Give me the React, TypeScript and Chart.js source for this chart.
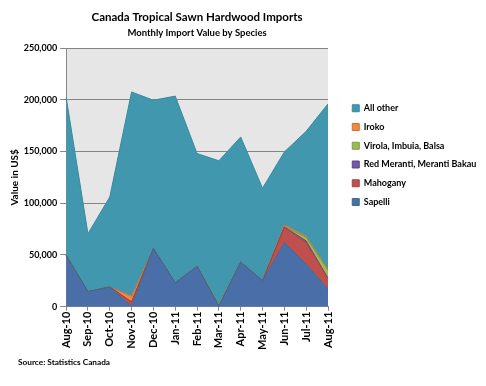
import React, { useEffect, useRef } from "react";
import { Chart, registerables } from "chart.js";

Chart.register(...registerables);

const months = ["Aug-10", "Sep-10", "Oct-10", "Nov-10", "Dec-10", "Jan-11", "Feb-11", "Mar-11", "Apr-11", "May-11", "Jun-11", "Jul-11", "Aug-11"];
const sapelli = [49500, 14500, 19000, 500, 56000, 23000, 39000, 500, 43000, 25000, 62000, 41000, 17000];
const mahogany = [0, 0, 0, 4000, 0, 0, 0, 0, 0, 0, 14500, 21000, 10000];
const redMeranti = [0, 0, 0, 0, 0, 0, 0, 0, 0, 0, 500, 1500, 500];
const virola = [0, 0, 0, 0, 0, 0, 0, 1000, 0, 0, 500, 3500, 7500];
const iroko = [0, 0, 0, 5500, 0, 0, 0, 0, 0, 0, 1500, 1000, 1000];
const allOther = [153000, 56000, 87000, 197500, 143500, 180500, 109000, 139500, 121000, 89500, 70500, 101500, 160000];
const yTicks = [0, 50000, 100000, 150000, 200000, 250000];

const FONT = "'Lato', sans-serif";

const series = [
  { label: "Sapelli", data: sapelli, color: "#4A6FA8", edge: "#3F6A8C" },
  { label: "Mahogany", data: mahogany, color: "#C0504D", edge: "#A8433F" },
  { label: "Red Meranti, Meranti Bakau", data: redMeranti, color: "#7557A3", edge: "#5E4585" },
  { label: "Virola, Imbuia, Balsa", data: virola, color: "#9BBB59", edge: "#7E9A44" },
  { label: "Iroko", data: iroko, color: "#F0883E", edge: "#D07030" },
  { label: "All other", data: allOther, color: "#4198AE", edge: "#3A8A9E" },
];

const bgPlugin = {
  id: "plotBg",
  beforeDraw(chart: any) {
    const { ctx, chartArea } = chart;
    ctx.save();
    ctx.fillStyle = "#E6E6E6";
    ctx.fillRect(chartArea.left, chartArea.top, chartArea.right - chartArea.left, chartArea.bottom - chartArea.top);
    ctx.restore();
  },
  afterDraw(chart: any) {
    const { ctx } = chart;
    ctx.save();
    ctx.font = "bold 8.25px " + FONT;
    ctx.fillStyle = "#000";
    ctx.textBaseline = "middle";
    ctx.textAlign = "left";
    ctx.fillText("Source: Statistics Canada", 18, 362);
    ctx.restore();
  },
};

export default function App() {
  const ref = useRef<HTMLCanvasElement>(null);
  useEffect(() => {
    if (!ref.current) return;
    const chart = new Chart(ref.current, {
      type: "line",
      data: {
        labels: months,
        datasets: series.map((s, i) => ({
          label: s.label,
          data: s.data,
          backgroundColor: s.color,
          borderColor: s.edge,
          borderWidth: 1,
          pointRadius: 0,
          tension: 0,
          fill: i === 0 ? "origin" : "-1",
        })),
      },
      options: {
        responsive: false,
        animation: false,
        devicePixelRatio: 1,
        layout: { padding: { left: 0, right: 0, top: 0, bottom: 35 } },
        plugins: {
          tooltip: { enabled: false },
          title: {
            display: true,
            text: "Canada Tropical Sawn Hardwood Imports",
            fullSize: false,
            color: "#000",
            font: { family: FONT, size: 11.5, weight: "bold", lineHeight: 1.2 },
            padding: { top: 10, bottom: 0 },
          },
          subtitle: {
            display: true,
            text: "Monthly Import Value by Species",
            fullSize: false,
            color: "#000",
            font: { family: FONT, size: 9.5, weight: "bold", lineHeight: 1.2 },
            padding: { top: 3, bottom: 9.8 },
          },
          legend: {
            position: "right",
            align: "start",
            reverse: true,
            maxWidth: 143.5,
            title: { display: true, text: " ", font: { size: 10, lineHeight: 1.2 }, padding: { top: 82, bottom: 0 } },
            labels: {
              boxWidth: 7,
              boxHeight: 7,
              padding: 9.75,
              color: "#000",
              font: { family: FONT, size: 9, weight: "bold" },
            },
          },
        },
        scales: {
          x: {
            type: "category",
            offset: false,
            grid: { display: true, drawOnChartArea: false, drawTicks: true, tickLength: 4, color: "#888" },
            border: { display: true, color: "#888" },
            ticks: {
              autoSkip: false,
              maxRotation: 90,
              minRotation: 90,
              padding: 1,
              color: "#000",
              font: { family: FONT, size: 11, weight: "bold" },
            },
          },
          y: {
            stacked: true,
            min: 0,
            max: 250000,
            afterBuildTicks: (scale: any) => {
              scale.ticks = yTicks.map((v) => ({ value: v }));
            },
            grid: { color: "#858585", tickLength: 6, drawTicks: true },
            border: { display: true, color: "#888" },
            ticks: {
              padding: 3,
              color: "#000",
              font: { family: FONT, size: 9, weight: "bold" },
              callback: (v: any) => Number(v).toLocaleString("en-US"),
            },
            title: {
              display: true,
              text: "Value in US$",
              color: "#000",
              font: { family: FONT, size: 10, weight: "bold", lineHeight: 1.2 },
              padding: { top: 8.7, bottom: 0 },
            },
          },
          yR: {
            type: "linear",
            position: "right",
            display: true,
            grid: { display: false },
            border: { display: false },
            ticks: { display: false },
            afterFit: (scale: any) => {
              scale.width = 14.5;
            },
          },
        },
      },
      plugins: [bgPlugin],
    });
    return () => chart.destroy();
  }, []);
  return (
    <div style={{ position: "fixed", left: 0, top: 0, width: 486, height: 386, background: "#fff" }}>
      <canvas ref={ref} width={486} height={386} />
    </div>
  );
}
